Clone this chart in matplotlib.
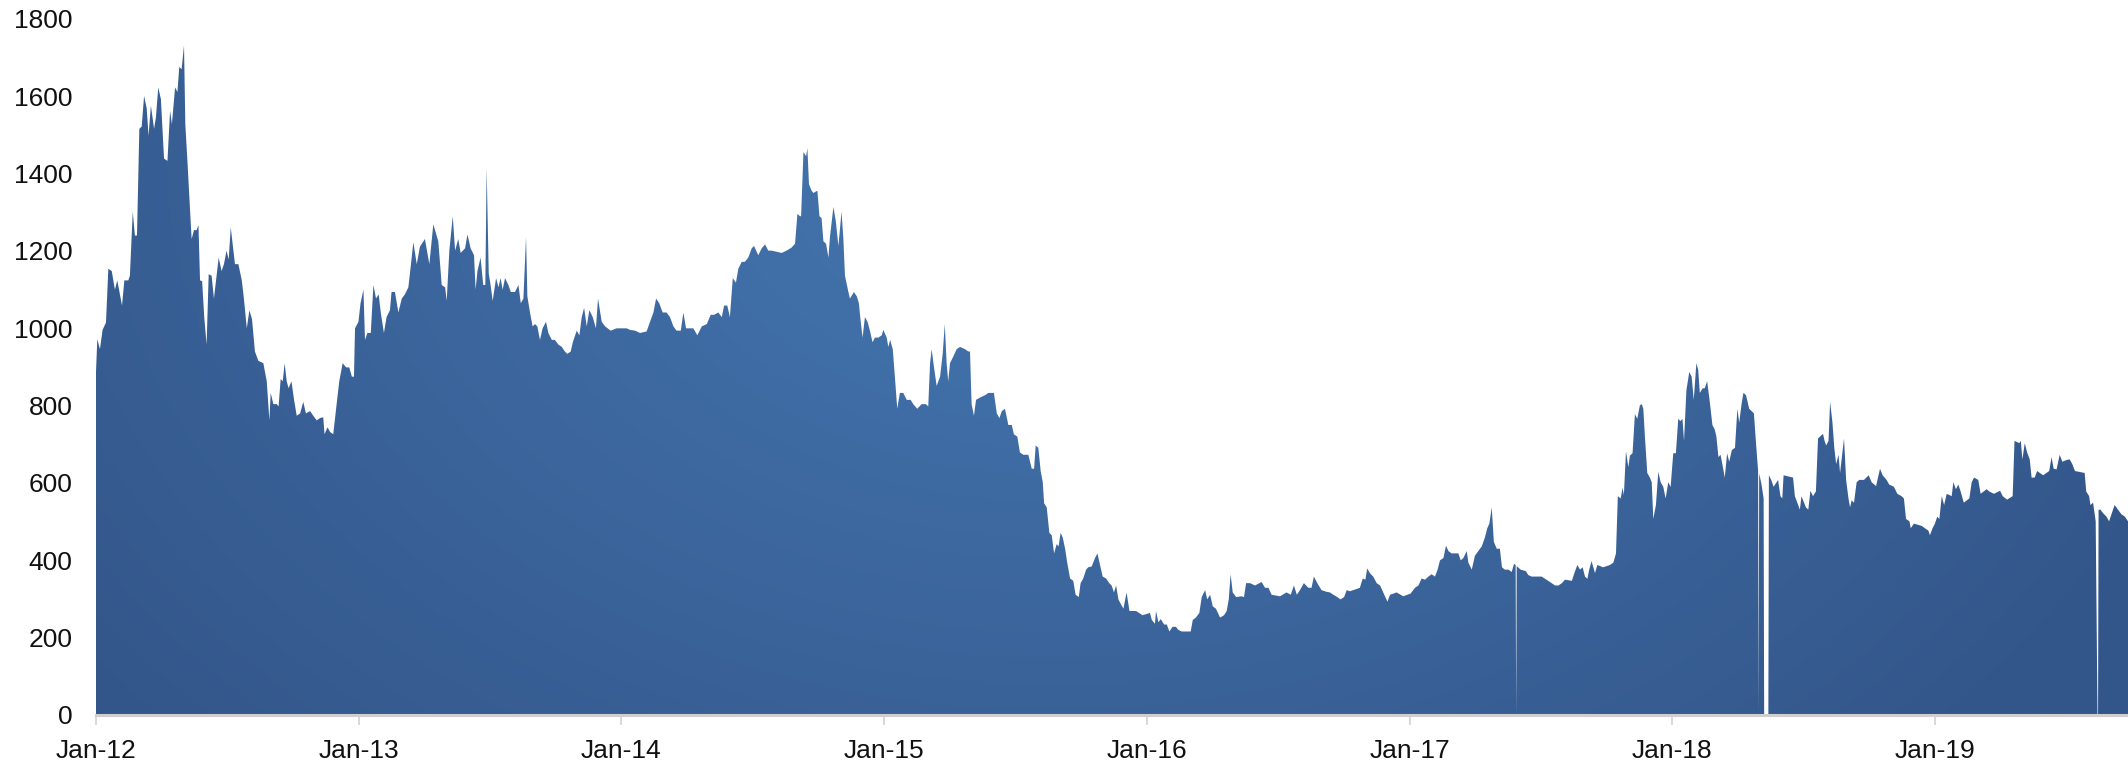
import numpy as np
import matplotlib
matplotlib.use("Agg")
import matplotlib.pyplot as plt
from matplotlib.colors import LinearSegmentedColormap

plt.rcParams['font.family'] = ['Liberation Sans', 'DejaVu Sans']

# Time as fractional years
x_years = [
    2012.000, 2012.005, 2012.015, 2012.025, 2012.038, 2012.047, 2012.060, 2012.072, 2012.081, 2012.099,
    2012.108, 2012.123, 2012.129, 2012.140, 2012.148, 2012.156, 2012.165, 2012.174, 2012.183, 2012.193,
    2012.200, 2012.209, 2012.221, 2012.228, 2012.237, 2012.247, 2012.259, 2012.272, 2012.282, 2012.289,
    2012.301, 2012.310, 2012.317, 2012.326, 2012.335, 2012.340, 2012.349, 2012.355, 2012.364, 2012.373,
    2012.383, 2012.390, 2012.396, 2012.404, 2012.412, 2012.421, 2012.429, 2012.440, 2012.449, 2012.459,
    2012.467, 2012.478, 2012.487, 2012.497, 2012.505, 2012.513, 2012.520, 2012.529, 2012.542, 2012.555,
    2012.563, 2012.574, 2012.584, 2012.594, 2012.605, 2012.618, 2012.637, 2012.650, 2012.660, 2012.665,
    2012.675, 2012.688, 2012.695, 2012.703, 2012.711, 2012.718, 2012.726, 2012.733, 2012.744, 2012.754,
    2012.764, 2012.777, 2012.789, 2012.799, 2012.815, 2012.827, 2012.840, 2012.853, 2012.865, 2012.870,
    2012.881, 2012.891, 2012.903, 2012.916, 2012.926, 2012.939, 2012.952, 2012.964, 2012.974, 2012.982,
    2012.986, 2012.999, 2013.007, 2013.018, 2013.024, 2013.033, 2013.046, 2013.056, 2013.066, 2013.076,
    2013.084, 2013.096, 2013.106, 2013.119, 2013.125, 2013.138, 2013.151, 2013.164, 2013.176, 2013.189,
    2013.198, 2013.208, 2013.221, 2013.233, 2013.252, 2013.269, 2013.284, 2013.303,
    2013.316, 2013.329, 2013.335, 2013.345, 2013.358, 2013.367, 2013.379, 2013.388, 2013.405, 2013.414,
    2013.426, 2013.439, 2013.445, 2013.452, 2013.464, 2013.474, 2013.482, 2013.487, 2013.495, 2013.502,
    2013.510, 2013.523, 2013.532, 2013.540, 2013.548, 2013.557, 2013.570, 2013.579, 2013.595, 2013.608,
    2013.617, 2013.627, 2013.637, 2013.642, 2013.652, 2013.662, 2013.671, 2013.680, 2013.690, 2013.700,
    2013.713, 2013.722, 2013.735, 2013.747, 2013.760, 2013.773, 2013.785, 2013.794, 2013.807, 2013.815,
    2013.830, 2013.840, 2013.849, 2013.858, 2013.868, 2013.878, 2013.891, 2013.903, 2013.911, 2013.925,
    2013.938, 2013.959, 2013.982, 2014.001, 2014.020, 2014.033, 2014.052, 2014.071, 2014.096, 2014.109,
    2014.122, 2014.132, 2014.144, 2014.157, 2014.172, 2014.185, 2014.198, 2014.210, 2014.226, 2014.236,
    2014.246, 2014.259, 2014.274, 2014.289, 2014.306, 2014.325, 2014.340, 2014.353, 2014.369, 2014.382,
    2014.391, 2014.403, 2014.413, 2014.424, 2014.436, 2014.445, 2014.458, 2014.470, 2014.483, 2014.496,
    2014.505, 2014.521, 2014.534, 2014.547, 2014.559, 2014.572, 2014.591, 2014.610, 2014.629, 2014.648,
    2014.661, 2014.670, 2014.680,
    2014.684, 2014.693, 2014.703, 2014.708, 2014.714, 2014.724, 2014.731, 2014.746, 2014.754, 2014.762,
    2014.769, 2014.779, 2014.788, 2014.794, 2014.807, 2014.816, 2014.826, 2014.838, 2014.845, 2014.851,
    2014.864, 2014.870, 2014.885, 2014.896, 2014.904, 2014.911, 2014.918, 2014.927, 2014.937, 2014.946,
    2014.956, 2014.965, 2014.978, 2014.991, 2014.997, 2015.010, 2015.016, 2015.023, 2015.033, 2015.041,
    2015.050, 2015.060, 2015.073, 2015.086, 2015.101, 2015.111, 2015.126, 2015.143, 2015.159, 2015.168,
    2015.175, 2015.181, 2015.190, 2015.200, 2015.213, 2015.223, 2015.231, 2015.238, 2015.244, 2015.251,
    2015.264, 2015.276, 2015.289, 2015.308, 2015.321, 2015.327, 2015.333, 2015.342, 2015.350, 2015.365,
    2015.384, 2015.397, 2015.418, 2015.429, 2015.439, 2015.448, 2015.460, 2015.473, 2015.486, 2015.494,
    2015.507, 2015.517, 2015.530, 2015.549, 2015.562, 2015.571, 2015.577, 2015.587, 2015.596, 2015.604,
    2015.609, 2015.619, 2015.629, 2015.638, 2015.647, 2015.657, 2015.664, 2015.672, 2015.680, 2015.689,
    2015.697, 2015.708, 2015.720, 2015.729, 2015.741, 2015.748, 2015.758, 2015.769, 2015.777, 2015.790,
    2015.803, 2015.812, 2015.822, 2015.832, 2015.845, 2015.857, 2015.866, 2015.875, 2015.883, 2015.892,
    2015.901, 2015.911, 2015.923, 2015.934, 2015.959, 2015.984, 2016.012,
    2016.019, 2016.031, 2016.035, 2016.044, 2016.053, 2016.066, 2016.076, 2016.086, 2016.098, 2016.111,
    2016.120, 2016.133, 2016.167, 2016.175, 2016.187, 2016.200, 2016.209, 2016.222, 2016.230, 2016.241,
    2016.251, 2016.263, 2016.279, 2016.294, 2016.304, 2016.312, 2016.319, 2016.327, 2016.340, 2016.361,
    2016.370, 2016.378, 2016.393, 2016.412, 2016.437, 2016.450, 2016.463, 2016.475, 2016.507, 2016.532,
    2016.548, 2016.560, 2016.571, 2016.583, 2016.598, 2016.615, 2016.627, 2016.636, 2016.649, 2016.665,
    2016.682, 2016.697, 2016.710, 2016.725, 2016.737, 2016.751, 2016.761, 2016.773, 2016.799, 2016.811,
    2016.822, 2016.832, 2016.839, 2016.850, 2016.862, 2016.875, 2016.888, 2016.900, 2016.916, 2016.926,
    2016.939, 2016.951, 2016.976, 2017.004, 2017.021, 2017.034, 2017.046, 2017.059, 2017.072, 2017.084,
    2017.097, 2017.107, 2017.116, 2017.129, 2017.139, 2017.148, 2017.160, 2017.186, 2017.195, 2017.205,
    2017.218, 2017.224, 2017.237, 2017.249, 2017.262, 2017.275, 2017.287, 2017.296, 2017.304, 2017.313,
    2017.321, 2017.332, 2017.344,
    2017.352, 2017.363, 2017.376, 2017.389, 2017.398, 2017.404, 2017.406, 2017.408, 2017.423, 2017.443,
    2017.452, 2017.465, 2017.503, 2017.528, 2017.554, 2017.567, 2017.580, 2017.592, 2017.618, 2017.626,
    2017.639, 2017.649, 2017.659, 2017.668, 2017.677, 2017.684, 2017.693, 2017.706, 2017.715, 2017.737,
    2017.763, 2017.776, 2017.786, 2017.793, 2017.804, 2017.811, 2017.816, 2017.824, 2017.833, 2017.839,
    2017.849, 2017.858, 2017.867, 2017.877, 2017.884, 2017.890, 2017.896, 2017.905, 2017.915, 2017.922,
    2017.928, 2017.938, 2017.947, 2017.956, 2017.966, 2017.975, 2017.985, 2017.994, 2018.004, 2018.014,
    2018.023, 2018.031, 2018.039, 2018.045, 2018.054, 2018.065, 2018.074, 2018.082, 2018.092, 2018.099,
    2018.105, 2018.116, 2018.124, 2018.133, 2018.143, 2018.153, 2018.162, 2018.168, 2018.176, 2018.184,
    2018.194, 2018.200, 2018.209, 2018.217, 2018.227, 2018.239, 2018.248, 2018.255, 2018.264, 2018.271,
    2018.281, 2018.293, 2018.302, 2018.311, 2018.319, 2018.327, 2018.329, 2018.331, 2018.340, 2018.348,
    2018.350, 2018.366, 2018.368, 2018.377, 2018.386, 2018.403, 2018.412, 2018.419, 2018.424, 2018.460,
    2018.467, 2018.486, 2018.492, 2018.509, 2018.518, 2018.526, 2018.536, 2018.547, 2018.555, 2018.564,
    2018.574, 2018.580, 2018.586, 2018.595, 2018.601, 2018.610, 2018.617, 2018.624, 2018.633,
    2018.639, 2018.654, 2018.662, 2018.671, 2018.677, 2018.683, 2018.692, 2018.702, 2018.712, 2018.730,
    2018.748, 2018.759, 2018.776, 2018.791, 2018.801, 2018.816, 2018.826, 2018.844, 2018.857, 2018.873,
    2018.882, 2018.890, 2018.903, 2018.908, 2018.920, 2018.950, 2018.962, 2018.975, 2018.981, 2018.991,
    2019.000, 2019.009, 2019.017, 2019.026, 2019.035, 2019.045, 2019.064, 2019.070, 2019.080, 2019.089,
    2019.098, 2019.110, 2019.121, 2019.131, 2019.140, 2019.149, 2019.165, 2019.174, 2019.197, 2019.207,
    2019.225, 2019.248, 2019.258, 2019.275, 2019.296, 2019.303, 2019.321, 2019.327, 2019.333, 2019.342,
    2019.351, 2019.361, 2019.368, 2019.380, 2019.389, 2019.412, 2019.435, 2019.444, 2019.452, 2019.463,
    2019.475, 2019.485, 2019.503, 2019.513, 2019.523, 2019.533, 2019.570, 2019.576, 2019.587, 2019.592,
    2019.602, 2019.612, 2019.619, 2019.621, 2019.623, 2019.630, 2019.640, 2019.653, 2019.663, 2019.672,
    2019.684, 2019.697, 2019.710, 2019.723, 2019.735,
]

values = [
    887, 972, 946, 996, 1015, 1154, 1148, 1100, 1124, 1059,
    1124, 1124, 1136, 1302, 1240, 1240, 1516, 1522, 1601, 1569,
    1498, 1576, 1516, 1545, 1623, 1593, 1439, 1433, 1563, 1528,
    1623, 1611, 1676, 1670, 1732, 1528, 1421, 1344, 1231, 1254,
    1254, 1267, 1124, 1122, 1029, 958, 1140, 1136, 1077, 1136,
    1183, 1148, 1166, 1201, 1178, 1261, 1219, 1166, 1166, 1124,
    1077, 1000, 1047, 1023, 940, 916, 910, 863, 762, 833,
    804, 804, 798, 869, 863, 910, 863, 845, 863, 815,
    774, 780, 810, 780, 786, 774, 762, 768, 770, 726,
    744, 732, 726, 804, 863, 910, 899, 899, 875, 875,
    1000, 1017, 1065, 1100, 970, 988, 988, 1112, 1077, 1088,
    1041, 988, 1029, 1047, 1094, 1094, 1041, 1077, 1088, 1106,
    1160, 1223, 1166, 1211, 1231, 1166, 1269, 1225,
    1112, 1106, 1071, 1201, 1290, 1201, 1231, 1195, 1207, 1243,
    1207, 1189, 1100, 1148, 1183, 1112, 1112, 1415, 1142, 1112,
    1071, 1130, 1106, 1130, 1100, 1130, 1112, 1094, 1094, 1112,
    1065, 1077, 1237, 1083, 1041, 1005, 1011, 1005, 970, 1000,
    1017, 988, 970, 970, 958, 952, 940, 934, 940, 964,
    994, 982, 1029, 1053, 1005, 1047, 1029, 1000, 1077, 1017,
    1005, 994, 1000, 1000, 1000, 996, 994, 988, 992, 1017,
    1041, 1077, 1065, 1041, 1041, 1029, 1005, 994, 994, 1041,
    1000, 1000, 1000, 982, 1005, 1011, 1035, 1035, 1041, 1029,
    1059, 1059, 1029, 1130, 1118, 1154, 1172, 1172, 1183, 1207,
    1213, 1189, 1207, 1217, 1201, 1201, 1198, 1195, 1201, 1209,
    1219, 1296, 1290,
    1290, 1456, 1445, 1466, 1373, 1356, 1350, 1356, 1290, 1285,
    1225, 1219, 1183, 1237, 1314, 1278, 1213, 1302, 1231, 1136,
    1094, 1077, 1094, 1083, 1065, 1017, 976, 1029, 1017, 994,
    964, 976, 976, 982, 996, 976, 952, 970, 946, 875,
    792, 833, 833, 815, 815, 804, 792, 804, 804, 798,
    910, 946, 899, 851, 875, 934, 1011, 910, 863, 910,
    928, 946, 952, 946, 940, 940, 804, 774, 815, 821,
    827, 833, 833, 780, 768, 786, 792, 750, 750, 726,
    720, 679, 673, 673, 637, 637, 697, 691, 631, 602,
    548, 537, 471, 465, 418, 442, 436, 471, 459, 430,
    394, 353, 347, 311, 305, 341, 353, 376, 382, 384,
    406, 418, 388, 358, 353, 341, 335, 317, 335, 299,
    287, 275, 317, 269, 269, 258, 264,
    246, 236, 269, 240, 248, 234, 234, 216, 228, 228,
    220, 216, 216, 246, 252, 264, 305, 323, 299, 311,
    281, 275, 252, 258, 269, 299, 364, 317, 305, 307,
    305, 341, 341, 335, 344, 329, 329, 311, 307, 317,
    311, 335, 311, 323, 341, 329, 329, 358, 341, 323,
    319, 317, 311, 305, 299, 305, 323, 320, 326, 329,
    353, 350, 379, 366, 358, 341, 335, 317, 293, 311,
    314, 317, 307, 314, 329, 335, 353, 350, 358, 364,
    358, 376, 400, 406, 438, 424, 418, 418, 400, 406,
    424, 394, 376, 412, 424, 436, 459, 483, 495, 537,
    448, 430, 430,
    382, 376, 376, 370, 391, 388, 0, 385, 376, 372,
    362, 358, 358, 347, 335, 335, 341, 350, 347, 364,
    388, 376, 382, 358, 352, 376, 398, 367, 388, 382,
    388, 394, 418, 566, 560, 588, 569, 682, 641, 671,
    677, 778, 766, 801, 804, 792, 721, 626, 614, 602,
    507, 543, 629, 602, 590, 560, 602, 590, 677, 677,
    766, 760, 766, 709, 840, 887, 875, 815, 910, 892,
    833, 845, 845, 863, 810, 750, 738, 721, 667, 673,
    637, 614, 677, 655, 685, 691, 792, 756, 804, 833,
    827, 792, 786, 780, 703, 631, 0, 625, 596, 560,
    0, 0, 620, 608, 590, 608, 566, 560, 620, 614,
    566, 531, 566, 537, 531, 580, 566, 578, 715, 721,
    727, 709, 697, 709, 810, 756, 691, 649, 673,
    626, 715, 608, 560, 537, 555, 549, 602, 608, 608,
    620, 602, 592, 637, 620, 608, 596, 590, 572, 566,
    560, 507, 501, 483, 495, 489, 483, 477, 465, 483,
    495, 513, 507, 566, 543, 572, 566, 602, 584, 596,
    578, 549, 555, 560, 602, 614, 608, 572, 584, 578,
    572, 580, 566, 557, 566, 709, 703, 709, 661, 703,
    679, 661, 614, 614, 631, 620, 631, 667, 637, 635,
    673, 655, 660, 661, 649, 631, 626, 578, 566, 543,
    549, 501, 0, 0, 531, 531, 522, 513, 501, 519,
    543, 531, 519, 513, 501,
]

tick_years = [2012, 2013, 2014, 2015, 2016, 2017, 2018, 2019]
tick_labels = ['Jan-12', 'Jan-13', 'Jan-14', 'Jan-15', 'Jan-16', 'Jan-17', 'Jan-18', 'Jan-19']
y_ticks = [0, 200, 400, 600, 800, 1000, 1200, 1400, 1600, 1800]

assert len(x_years) == len(values), (len(x_years), len(values))

W, H = 2128, 764
fig = plt.figure(figsize=(W / 100, H / 100), dpi=100)
ax = fig.add_axes([96 / W, 49 / H, 1 - 96 / W, 696 / H])

x0, x1 = x_years[0], x_years[-1]
ax.set_xlim(x0, x1)
ax.set_ylim(0, 1800)

poly = ax.fill_between(x_years, 0, values, facecolor='none', edgecolor='none', linewidth=0)

# radial gradient fill clipped to the area
nx, ny = 800, 300
gx = np.linspace(0, 1, nx)
gy = np.linspace(0, 1, ny)
X, Y = np.meshgrid(gx, gy)
d = np.sqrt(((X - 0.47) / 0.60) ** 2 + ((Y - 0.80) / 1.25) ** 2)
d = np.clip(d, 0, 1)
cmap = LinearSegmentedColormap.from_list('g', ['#4577b1', '#33568a'])
im = ax.imshow(d, extent=(x0, x1, 0, 1800), origin='lower', aspect='auto',
               cmap=cmap, vmin=0, vmax=1, interpolation='bilinear', zorder=1)
im.set_clip_path(poly.get_paths()[0], transform=ax.transData)

for s in ['left', 'top', 'right']:
    ax.spines[s].set_visible(False)
ax.spines['bottom'].set_color('#cfcfcf')
ax.spines['bottom'].set_linewidth(2.2)
ax.spines['bottom'].set_zorder(3)

ax.set_xticks(tick_years)
ax.set_xticklabels(tick_labels)
ax.set_yticks(y_ticks)
ax.set_yticklabels([str(v) for v in y_ticks])
ax.tick_params(axis='x', length=7, width=1.3, color='#d6d6d6', pad=10,
               labelsize=19, labelcolor='#111111')
ax.tick_params(axis='y', length=0, pad=17, labelsize=19, labelcolor='#111111')

fig.savefig('out.png', dpi=100, facecolor='white')
